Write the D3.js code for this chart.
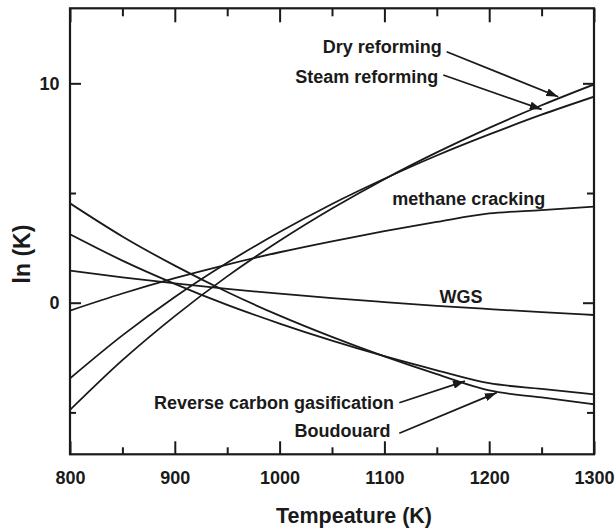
<!DOCTYPE html>
<html>
<head>
<meta charset="utf-8">
<script src="https://cdn.jsdelivr.net/npm/d3@7"></script>
<style>
  html, body { margin: 0; padding: 0; background: #fff; }
  svg { display: block; }
  text { font-family: "Liberation Sans", Arial, Helvetica, sans-serif; font-weight: bold; fill: #1a1a1a; }
</style>
</head>
<body>
<svg id="chart" width="615" height="530"></svg>
<script>
// ---------------- data ----------------
const temperatures = [800, 850, 900, 950, 1000, 1050, 1100, 1150, 1200, 1250, 1300];
const dryReforming = [-4.89, -2.62, -0.61, 1.20, 2.82, 4.29, 5.63, 6.85, 7.97, 9.00, 9.95];
const steamReforming = [-3.45, -1.49, 0.26, 1.82, 3.22, 4.50, 5.65, 6.71, 7.67, 8.57, 9.39];
const methaneCracking = [-0.36, 0.42, 1.12, 1.74, 2.30, 2.80, 3.26, 3.68, 4.07, 4.22, 4.38];
const wgs = [1.46, 1.15, 0.88, 0.63, 0.41, 0.21, 0.03, -0.14, -0.29, -0.43, -0.56];
const boudouard = [4.53, 3.02, 1.69, 0.49, -0.59, -1.56, -2.45, -3.26, -4.00, -4.32, -4.63];
const reverseCarbonGasification = [3.12, 1.92, 0.86, -0.10, -0.95, -1.73, -2.44, -3.08, -3.67, -3.93, -4.18];

const seriesNames = ["Dry reforming", "Steam reforming", "methane cracking", "WGS", "Reverse carbon gasification", "Boudouard"];
const seriesValues = [dryReforming, steamReforming, methaneCracking, wgs, reverseCarbonGasification, boudouard];

const xMajorTicks = [800, 900, 1000, 1100, 1200, 1300];
const xMinorTicks = [850, 950, 1050, 1150, 1250];
const yMajorTicks = [0, 10];
const yMinorTicks = [-5, 5];
const xTitle = "Tempeature (K)";
const yTitle = "ln (K)";

// annotation placement (data coordinates): label anchor, arrow start, arrow tip
const annotations = [
  { text: "Dry reforming", anchor: "end", lx: 1154.7, ly: 11.37, sx: 1159.4, sy: 11.44, tx: 1265.9, ty: 9.39 },
  { text: "Steam reforming", anchor: "end", lx: 1151.4, ly: 10.01, sx: 1156.2, sy: 10.38, tx: 1250.1, ty: 8.81 },
  { text: "methane cracking", anchor: "middle", lx: 1180.4, ly: 4.45 },
  { text: "WGS", anchor: "middle", lx: 1173.1, ly: -0.03 },
  { text: "Reverse carbon gasification", anchor: "end", lx: 1109.2, ly: -4.86, sx: 1114.2, sy: -4.56, tx: 1176.9, ty: -3.57 },
  { text: "Boudouard", anchor: "end", lx: 1105.8, ly: -6.10, sx: 1114.2, sy: -5.95, tx: 1207.2, ty: -4.10 }
];

// ---------------- layout ----------------
const plot = { left: 70, right: 594, top: 8.3, bottom: 454.3 };
const ink = "#1a1a1a";

const svg = d3.select("#chart");

const x = d3.scaleLinear().domain([800, 1300]).range([plot.left, plot.right]);
const y = d3.scaleLinear().domain([-6.91, 13.42]).range([plot.bottom, plot.top]);

function styleAxis(g) {
  g.select(".domain").remove();
  g.selectAll(".tick line").attr("stroke", ink).attr("stroke-width", 2);
  g.selectAll(".tick text").attr("font-size", 18).attr("font-family", "Liberation Sans, Arial, sans-serif")
    .attr("font-weight", "bold").attr("fill", ink);
}

// bottom
svg.append("g").attr("transform", `translate(0,${plot.bottom})`)
  .call(d3.axisBottom(x).tickValues(xMajorTicks).tickSize(-13).tickPadding(17).tickFormat(d3.format("d")))
  .call(styleAxis);
svg.append("g").attr("transform", `translate(0,${plot.bottom})`)
  .call(d3.axisBottom(x).tickValues(xMinorTicks).tickSize(-7).tickFormat(""))
  .call(styleAxis);
// top
svg.append("g").attr("transform", `translate(0,${plot.top})`)
  .call(d3.axisTop(x).tickValues(xMajorTicks).tickSize(-14).tickFormat(""))
  .call(styleAxis);
svg.append("g").attr("transform", `translate(0,${plot.top})`)
  .call(d3.axisTop(x).tickValues(xMinorTicks).tickSize(-8).tickFormat(""))
  .call(styleAxis);
// left
svg.append("g").attr("transform", `translate(${plot.left},0)`)
  .call(d3.axisLeft(y).tickValues(yMajorTicks).tickSize(-11).tickPadding(10.5).tickFormat(d3.format("d")))
  .call(styleAxis);
svg.append("g").attr("transform", `translate(${plot.left},0)`)
  .call(d3.axisLeft(y).tickValues(yMinorTicks).tickSize(-6).tickFormat(""))
  .call(styleAxis);
// right
svg.append("g").attr("transform", `translate(${plot.right},0)`)
  .call(d3.axisRight(y).tickValues(yMajorTicks).tickSize(-11).tickFormat(""))
  .call(styleAxis);
svg.append("g").attr("transform", `translate(${plot.right},0)`)
  .call(d3.axisRight(y).tickValues(yMinorTicks).tickSize(-7).tickFormat(""))
  .call(styleAxis);

// frame
svg.append("rect")
  .attr("x", plot.left).attr("y", plot.top)
  .attr("width", plot.right - plot.left).attr("height", plot.bottom - plot.top)
  .attr("fill", "none").attr("stroke", ink).attr("stroke-width", 2.2);

// clip
svg.append("clipPath").attr("id", "clip").append("rect")
  .attr("x", plot.left).attr("y", plot.top)
  .attr("width", plot.right - plot.left).attr("height", plot.bottom - plot.top);

const line = d3.line()
  .x((d, i) => x(temperatures[i]))
  .y(d => y(d))
  .curve(d3.curveMonotoneX);

svg.append("g").attr("clip-path", "url(#clip)")
  .selectAll("path.series")
  .data(seriesValues)
  .join("path")
  .attr("class", "series")
  .attr("d", d => line(d))
  .attr("fill", "none")
  .attr("stroke", ink)
  .attr("stroke-width", 1.8);

// arrow marker
svg.append("defs").append("marker")
  .attr("id", "arrow")
  .attr("viewBox", "0 0 12 8")
  .attr("refX", 12).attr("refY", 4)
  .attr("markerWidth", 12).attr("markerHeight", 8)
  .attr("markerUnits", "userSpaceOnUse")
  .attr("orient", "auto")
  .append("path").attr("d", "M0,0 L12,4 L0,8 Z").attr("fill", ink);

const ann = svg.append("g");
annotations.forEach(a => {
  ann.append("text")
    .attr("x", x(a.lx)).attr("y", y(a.ly))
    .attr("text-anchor", a.anchor)
    .attr("font-size", 18)
    .text(a.text);
  if (a.tx !== undefined) {
    ann.append("line")
      .attr("x1", x(a.sx)).attr("y1", y(a.sy))
      .attr("x2", x(a.tx)).attr("y2", y(a.ty))
      .attr("stroke", ink).attr("stroke-width", 1.8)
      .attr("marker-end", "url(#arrow)");
  }
});

// axis titles
svg.append("text")
  .attr("x", (plot.left + plot.right) / 2 + 22).attr("y", 522.7)
  .attr("text-anchor", "middle").attr("font-size", 21.5)
  .text(xTitle);
svg.append("text")
  .attr("transform", `translate(29.5,${254}) rotate(-90)`)
  .attr("text-anchor", "middle").attr("font-size", 23)
  .text(yTitle);
</script>
</body>
</html>
